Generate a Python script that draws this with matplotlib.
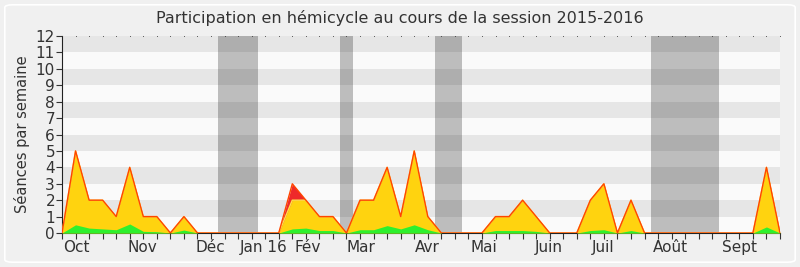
import matplotlib
matplotlib.use("Agg")
import matplotlib.pyplot as plt
import matplotlib.patches as mpatches
import numpy as np

# weekly values, session 2015-2016 (week 0 = end of sept. 2015)
weeks = np.arange(54)
total = [0, 5, 2, 2, 1, 4, 1, 1, 0, 1, 0, 0, 0, 0, 0, 0, 0, 3, 2, 1,
         1, 0, 2, 2, 4, 1, 5, 1, 0, 0, 0, 0, 1, 1, 2, 1, 0, 0, 0, 2,
         3, 0, 2, 0, 0, 0, 0, 0, 0, 0, 0, 0, 4, 0]
extra = [0] * 54
extra[17] = 1
green = [0, 0.5, 0.3, 0.25, 0.2, 0.55, 0.1, 0.08, 0, 0.18, 0, 0, 0, 0, 0, 0, 0, 0.25, 0.3, 0.15,
         0.15, 0, 0.2, 0.2, 0.45, 0.25, 0.5, 0.2, 0, 0, 0, 0, 0.15, 0.15, 0.15, 0.1, 0, 0, 0, 0.15,
         0.2, 0, 0.15, 0, 0, 0, 0, 0, 0, 0, 0, 0, 0.37, 0]
vacances = [(11.5, 14.5), (20.5, 21.5), (27.5, 29.5), (43.5, 48.5)]
mois = ["Oct", "Nov", "Déc", "Jan 16", "Fév", "Mar", "Avr", "Mai", "Juin", "Juil", "Août", "Sept"]
mois_pos = [1.08, 5.95, 10.94, 14.86, 18.17, 22.09, 26.97, 31.12, 35.9, 39.94, 44.94, 50.0]

total = np.array(total, dtype=float)
yellow = total - np.array(extra)

fig = plt.figure(figsize=(8, 2.67), dpi=100)
fig.patch.set_facecolor("#f0f0f0")
fig.patches.append(mpatches.FancyBboxPatch((0.006, 0.018), 0.988, 0.964,
                                           boxstyle="round,pad=0,rounding_size=0.01",
                                           transform=fig.transFigure, facecolor="none",
                                           edgecolor="white", linewidth=1.2))

ax = fig.add_axes([0.0775, 0.1273, 0.8975, 0.7377])
ax.set_facecolor("#fafafa")
for n in range(1, 12, 2):
    ax.axhspan(n, n + 1, color="#e6e6e6", lw=0, zorder=0)
for a, b in vacances:
    ax.axvspan(a, b, color="#0a0a0a", alpha=0.25, lw=0, zorder=1)

ax.fill_between(weeks, 0, total, color="#ee2a2a", lw=0, zorder=2)
ax.fill_between(weeks, 0, yellow, color="#ffd30f", lw=0, zorder=3)
ax.plot(weeks, yellow, color="#ffe24a", lw=1, zorder=3.5)
ax.plot(weeks, total, color="#ff4500", lw=1, zorder=4)
ax.fill_between(weeks, 0, green, color="#2ef02e", lw=0, zorder=5)
# small dots along the top edge
ax.plot(weeks, [12] * len(weeks), ls="none", marker="s", ms=0.5, mew=0, color="#333333",
        zorder=6, clip_on=False)

ax.set_xlim(0, 53)
ax.set_ylim(0, 12)
ax.set_yticks(range(13))
ax.set_xticks(weeks)
ax.set_xticklabels([])
ax.tick_params(axis="y", labelsize=11, colors="#333333", length=4, pad=1)
ax.tick_params(axis="x", length=4, colors="#333333")
for spine in ["top", "right"]:
    ax.spines[spine].set_visible(False)
ax.spines["left"].set_color("#222222")
ax.spines["bottom"].set_color("#222222")

for lab, p in zip(mois, mois_pos):
    ax.text(p, -0.45, lab, ha="center", va="top", fontsize=11, color="#333333")

ax.set_ylabel("Séances par semaine", fontsize=10.5, color="#333333", labelpad=4)
fig.suptitle("Participation en hémicycle au cours de la session 2015-2016",
             fontsize=11.5, color="#333333", y=0.963)

fig.savefig("out.png", dpi=100, facecolor=fig.get_facecolor())
